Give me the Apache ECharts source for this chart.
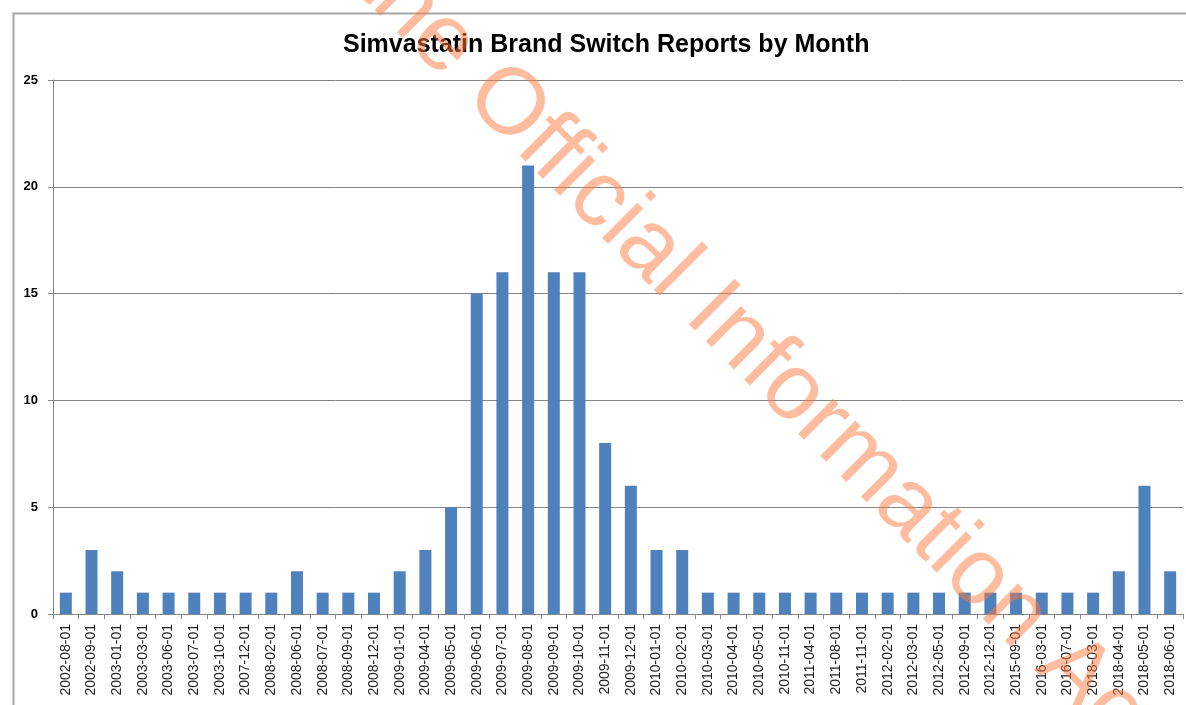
<!DOCTYPE html>
<html>
<head>
<meta charset="utf-8">
<script src="https://cdn.jsdelivr.net/npm/echarts@6/dist/echarts.min.js"></script>
<style>
  html, body { margin: 0; padding: 0; background: #fff; }
  #bar { width: 1186px; height: 705px; }
</style>
</head>
<body>
<div id="bar"></div>
<script>
// monthly report counts
var months = ['2002-08-01', '2002-09-01', '2003-01-01', '2003-03-01', '2003-06-01', '2003-07-01',
	'2003-10-01', '2007-12-01', '2008-02-01', '2008-06-01', '2008-07-01', '2008-09-01',
	'2008-12-01', '2009-01-01', '2009-04-01', '2009-05-01', '2009-06-01', '2009-07-01',
	'2009-08-01', '2009-09-01', '2009-10-01', '2009-11-01', '2009-12-01', '2010-01-01',
	'2010-02-01', '2010-03-01', '2010-04-01', '2010-05-01', '2010-11-01', '2011-04-01',
	'2011-08-01', '2011-11-01', '2012-02-01', '2012-03-01', '2012-05-01', '2012-09-01',
	'2012-12-01', '2015-09-01', '2016-03-01', '2016-07-01', '2018-03-01', '2018-04-01',
	'2018-05-01', '2018-06-01'];
var reports = [1, 3, 2, 1, 1, 1,
	1, 1, 1, 2, 1, 1,
	1, 2, 3, 5, 15, 16,
	21, 16, 16, 8, 6, 3,
	3, 1, 1, 1, 1, 1,
	1, 1, 1, 1, 1, 1,
	1, 1, 1, 1, 1, 2,
	6, 2];
var yTicks = { min: 0, max: 25, step: 5 };
var watermark = 'Released under the Official Information Act';

var myChart = echarts.init(document.getElementById('bar'));
var gray = '#868686';
var option = {
	animation: false,
	color: ['#4f81bd'],
	title: {
		text: 'Simvastatin Brand Switch Reports by Month',
		left: 338,
		top: 28,
		textStyle: {
			fontFamily: 'Liberation Sans',
			fontWeight: 'bold',
			fontSize: 25,
			color: '#000'
		}
	},
	grid: {
		left: 53,
		right: 3,
		top: 80,
		bottom: 91
	},
	xAxis: {
		type: 'category',
		data: months,
		axisLine: { lineStyle: { color: gray, width: 1 } },
		axisTick: { show: true, length: 5, interval: 0, lineStyle: { color: gray } },
		axisLabel: {
			interval: 0,
			rotate: 90,
			margin: 10,
			fontFamily: 'Liberation Sans',
			fontSize: 14,
			color: '#222'
		}
	},
	yAxis: {
		type: 'value',
		min: yTicks.min,
		max: yTicks.max,
		interval: yTicks.step,
		axisLine: { show: true, lineStyle: { color: gray, width: 1 } },
		axisTick: { show: true, length: 5, lineStyle: { color: gray } },
		splitLine: { lineStyle: { color: gray, width: 1 } },
		axisLabel: {
			margin: 15,
			fontFamily: 'Liberation Sans',
			fontWeight: 'bold',
			fontSize: 13,
			color: '#000'
		}
	},
	series: [{
		name: 'Reports',
		type: 'bar',
		barWidth: 12,
		data: reports
	}],
	graphic: [{
		type: 'rect',
		left: 11,
		top: 11,
		z: -1,
		shape: { width: 1400, height: 900 },
		style: { fill: 'none', stroke: '#a6a6a6', lineWidth: 2 }
	}, {
		type: 'text',
		x: -118,
		y: -519,
		rotation: -Math.PI / 4,
		z: 100,
		style: {
			text: watermark,
			fontFamily: 'Liberation Sans',
			fontSize: 94,
			fill: '#ff7a40',
			opacity: 0.5,
			textVerticalAlign: 'middle'
		}
	}]
};
myChart.setOption(option);
</script>
</body>
</html>
